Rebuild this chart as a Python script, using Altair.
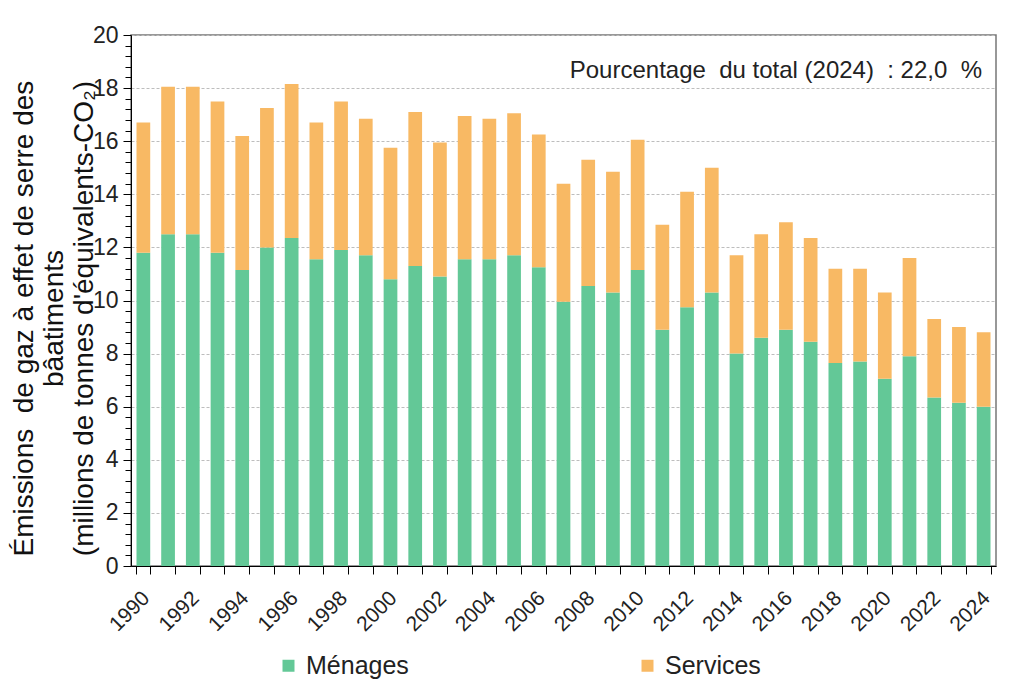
import altair as alt
import pandas as pd

years = list(range(1990, 2025))
menages = [11.8, 12.5, 12.5, 11.8, 11.15, 12.0, 12.35, 11.55, 11.9, 11.7,
           10.8, 11.3, 10.9, 11.55, 11.55, 11.7, 11.25, 9.95, 10.55, 10.3,
           11.15, 8.9, 9.75, 10.3, 8.0, 8.6, 8.9, 8.45, 7.65, 7.7,
           7.05, 7.9, 6.35, 6.15, 6.0]
services = [4.9, 5.55, 5.55, 5.7, 5.05, 5.25, 5.8, 5.15, 5.6, 5.15,
            4.95, 5.8, 5.05, 5.4, 5.3, 5.35, 5.0, 4.45, 4.75, 4.55,
            4.9, 3.95, 4.35, 4.7, 3.7, 3.9, 4.05, 3.9, 3.55, 3.5,
            3.25, 3.7, 2.95, 2.85, 2.8]
series = ["Ménages", "Services"]
colors = ["#63C897", "#F8B964"]
y_title = ["Émissions \u00a0de gaz à effet de serre des", "bâatiments",
           "(millions de tonnes d'équivalents-CO₂)"]
annotation = "Pourcentage \u00a0du total (2024) \u00a0: 22,0 \u00a0%"

rows = []
for i, yr in enumerate(years):
    rows.append({"year": str(yr), "serie": series[0], "value": menages[i], "ord": 0})
    rows.append({"year": str(yr), "serie": series[1], "value": services[i], "ord": 1})
df = pd.DataFrame(rows)

ytick_values = [round(v * 0.4, 1) for v in range(0, 51)]
major_test = "abs(datum.value - round(datum.value / 2) * 2) < 0.01"

font = "Liberation Sans"

bars = alt.Chart(df).mark_bar().encode(
    x=alt.X("year:N", title=None,
            scale=alt.Scale(paddingInner=0.445, paddingOuter=0.2225),
            axis=alt.Axis(labelAngle=-45, tickBand="extent", labelOverlap=False,
                          labelExpr="toNumber(datum.value) % 2 == 0 ? datum.label : ''",
                          labelFontSize=21, labelFont=font, labelColor="#222",
                          domainColor="#000", tickColor="#000", tickSize=8,
                          labelPadding=13, labelOffset=-5)),
    y=alt.Y("value:Q", title=y_title, stack="zero",
            scale=alt.Scale(domain=[0, 20], nice=False),
            axis=alt.Axis(values=ytick_values,
                          labelExpr=f"{major_test} ? format(datum.value, 'd') : ''",
                          tickSize={"condition": {"test": major_test, "value": 8}, "value": 6},
                          gridOpacity={"condition": {"test": major_test, "value": 1}, "value": 0},
                          grid=True, gridColor="#bdbdbd", gridDash=[3, 2],
                          domainColor="#000", tickColor="#000",
                          labelFontSize=23, labelFont=font, labelColor="#222",
                          labelPadding=5,
                          titleFontSize=28, titleFont=font, titleColor="#111",
                          titleFontWeight="normal", titleAngle=-90,
                          titleAlign="center", titleBaseline="top",
                          titleX=-121, titleY=283, titleLineHeight=30)),
    color=alt.Color("serie:N", scale=alt.Scale(domain=series, range=colors),
                    legend=alt.Legend(title=None, orient="none", legendX=145, legendY=618,
                                      direction="horizontal", columns=2,
                                      columnPadding=226, symbolType="square",
                                      symbolSize=144, symbolStrokeWidth=0,
                                      labelFontSize=25, labelFont=font,
                                      labelColor="#222", labelOffset=5)),
    order=alt.Order("ord:Q"),
)

note = alt.Chart(pd.DataFrame({"t": [annotation]})).mark_text(
    align="right", baseline="alphabetic", fontSize=24, font=font, color="#222"
).encode(x=alt.value(851), y=alt.value(43), text="t:N")

chart = alt.layer(bars, note).properties(
    width=865, height=531,
    padding={"left": 123, "top": 27, "right": 20, "bottom": 130},
    autosize="none",
).configure_view(stroke="#777", strokeWidth=1.5)

chart.save("out.html", embed_options={"renderer": "svg", "actions": False})
